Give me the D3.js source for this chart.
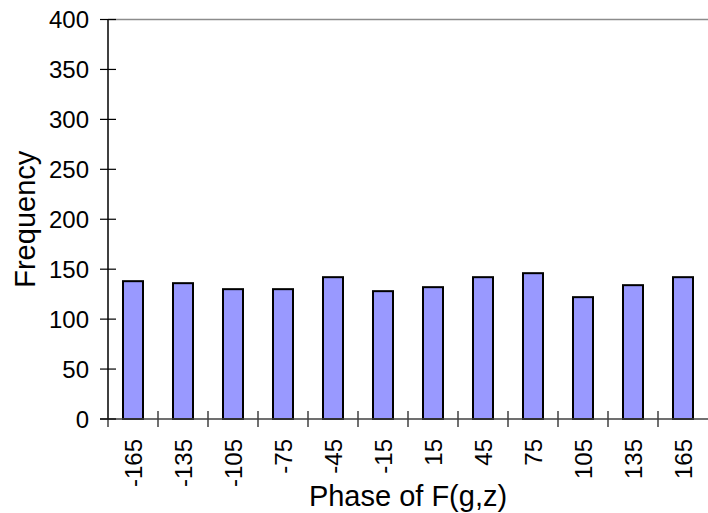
<!DOCTYPE html>
<html><head><meta charset="utf-8">
<script src="https://cdn.jsdelivr.net/npm/d3@7"></script>
<style>body{margin:0;background:#fff}svg{display:block}text{font-family:"Liberation Sans",Arial,sans-serif;fill:#000}</style>
</head><body>
<script>
const categories = ["-165","-135","-105","-75","-45","-15","15","45","75","105","135","165"];
const frequency = [138,136,130,130,142,128,132,142,146,122,134,142];
const yTicks = [0,50,100,150,200,250,300,350,400];

const W=708,H=513;
const m={left:108,right:0,top:19.5,bottom:94};
const svg=d3.select("body").append("svg").attr("width",W).attr("height",H);
const xb=d3.scaleBand().domain(categories).range([m.left,W-m.right]);
const y=d3.scaleLinear().domain([0,400]).range([H-m.bottom,m.top]);

// top gray line
svg.append("line").attr("x1",m.left).attr("x2",W).attr("y1",y(400)).attr("y2",y(400)).attr("stroke","#8c8c8c").attr("stroke-width",1.5);

// bars
svg.selectAll("rect.bar").data(frequency).join("rect").attr("class","bar")
 .attr("x",(d,i)=>xb(categories[i])+xb.bandwidth()/2-10)
 .attr("width",20)
 .attr("y",d=>y(d)).attr("height",d=>y(0)-y(d))
 .attr("fill","#9999ff").attr("stroke","#000").attr("stroke-width",2);

// x axis line
svg.append("line").attr("x1",m.left-8).attr("x2",W).attr("y1",y(0)).attr("y2",y(0)).attr("stroke","#404040").attr("stroke-width",1.5);
const bounds=categories.map(c=>xb(c));
svg.selectAll("line.xt").data(bounds).join("line").attr("class","xt")
 .attr("x1",d=>d).attr("x2",d=>d).attr("y1",(d,i)=>i===0?y(0):y(0)-8).attr("y2",y(0)+8)
 .attr("stroke","#404040").attr("stroke-width",1.5);
// y axis
svg.append("line").attr("x1",m.left).attr("x2",m.left).attr("y1",y(400)).attr("y2",y(0)).attr("stroke","#404040").attr("stroke-width",2);
svg.selectAll("line.yt").data(yTicks).join("line").attr("class","yt")
 .attr("x1",m.left-8).attr("x2",m.left+8).attr("y1",d=>y(d)).attr("y2",d=>y(d))
 .attr("stroke","#000").attr("stroke-width",1.2);
svg.selectAll("text.yl").data(yTicks).join("text").attr("class","yl")
 .attr("x",89).attr("y",d=>y(d)).attr("dy","0.36em").attr("text-anchor","end")
 .attr("font-size",24).text(d=>d);
// x labels
svg.selectAll("text.xl").data(categories).join("text").attr("class","xl")
 .attr("transform",d=>`translate(${xb(d)+xb.bandwidth()/2},439) rotate(-90)`)
 .attr("text-anchor","end").attr("dy","0.36em").attr("font-size",24).text(d=>d);
// titles
svg.append("text").attr("x",(m.left+W)/2).attr("y",506).attr("text-anchor","middle").attr("font-size",29).text("Phase of F(g,z)");
svg.append("text").attr("transform",`translate(35,${(y(0)+y(400))/2}) rotate(-90)`).attr("text-anchor","middle").attr("font-size",29).text("Frequency");
</script>
</body></html>
